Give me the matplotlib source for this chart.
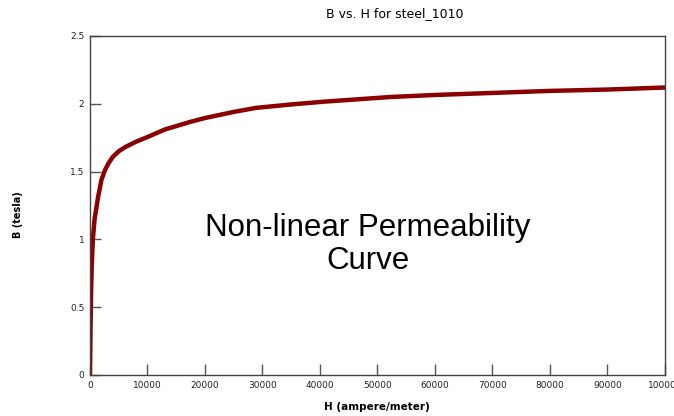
import numpy as np
import matplotlib.pyplot as plt

# B-H curve for steel_1010
H = [0, 100, 200, 300, 500, 800, 1400, 2000, 2600, 3200, 4000, 5000, 6100,
     8000, 10000, 13000, 17400, 20000, 25000, 28900, 35000, 40500, 52200,
     60000, 70000, 80000, 90000, 100000]
B = [0, 0.35, 0.62, 0.80, 1.00, 1.15, 1.31, 1.44, 1.51, 1.56, 1.61, 1.65, 1.68,
     1.72, 1.755, 1.81, 1.866, 1.895, 1.94, 1.97, 1.995, 2.015, 2.05,
     2.065, 2.08, 2.095, 2.105, 2.12]

xticks = np.arange(0, 100001, 10000)
yticks = [0, 0.5, 1, 1.5, 2, 2.5]
ylabels = ['0', '0.5', '1', '1.5', '2', '2.5']

plt.rcParams['font.family'] = ['DejaVu Sans']
fig = plt.figure(figsize=(6.74, 4.16), dpi=100)
ax = fig.add_axes([0.1335, 0.0986, 0.8531, 0.8149])

ax.plot(H, B, color='#8b0000', lw=3.2, solid_capstyle='butt')
ax.set_xlim(0, 100000)
ax.set_ylim(0, 2.5)
ax.set_xticks(xticks)
ax.set_xticklabels([str(v) for v in xticks])
ax.set_yticks(yticks)
ax.set_yticklabels(ylabels)
ax.tick_params(direction='in', length=8, width=1, color='#555555',
               labelsize=6.5, pad=4, labelcolor='#222222')
for s in ax.spines.values():
    s.set_color('#444444')
    s.set_linewidth(1)

fig.text(395 / 674, 1 - 14 / 416, 'B vs. H for steel_1010', ha='center',
         va='center', fontsize=9)
fig.text(377 / 674, 1 - 407 / 416, 'H (ampere/meter)', ha='center',
         va='center', fontsize=7.5, fontweight='bold')
fig.text(18 / 674, 1 - 215 / 416, 'B (tesla)', ha='center', va='center',
         rotation=90, fontsize=7, fontweight='bold')

ax.text(0.483, 0.385, 'Non-linear Permeability\nCurve', transform=ax.transAxes,
        ha='center', va='center', fontsize=22.5, family='Liberation Sans',
        linespacing=1.1)

fig.savefig('out.png', dpi=100)
